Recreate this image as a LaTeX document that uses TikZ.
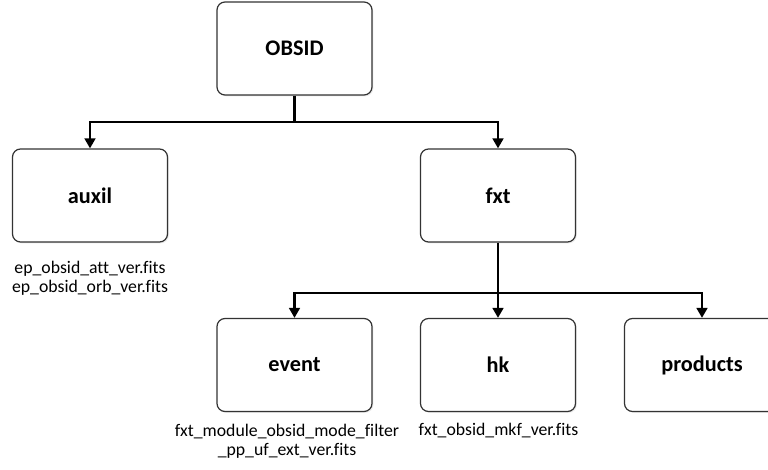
\documentclass[tikz,border=0pt]{standalone}
\usepackage{fontspec}
\setmainfont{Carlito}[Ligatures={NoCommon}]
\usetikzlibrary{arrows.meta,shadows}
\definecolor{boxline}{HTML}{333333}
\tikzset{
  box/.style={draw=boxline, line width=0.9pt, rounded corners=6pt, fill=white,
    minimum width=116.25pt, minimum height=69.75pt, inner sep=0pt,
    font=\fontsize{16.7}{18}\selectfont\bfseries,
    drop shadow={shadow xshift=1pt, shadow yshift=-1pt, opacity=0.25, fill=gray!60}},
  conn/.style={line width=1.9pt, black},
  arr/.style={conn, -{Triangle[width=8pt,length=7.5pt]}},
  fname/.style={font=\fontsize{13.3}{14}\selectfont, align=center, inner sep=0pt}
}
\begin{document}
\begin{tikzpicture}[x=0.75pt,y=-0.75pt]
\useasboundingbox (0,0) rectangle (768,470);
\clip (0,0) rectangle (768,470);
\node[box] (obsid) at (294.5,48.5) {OBSID};
\node[box] (auxil) at (90,195.5) {auxil};
\node[box] (fxt) at (498,195.5) {fxt};
\node[box] (event) at (294.5,365) {event};
\node[box] (hk) at (498,365) {hk};
\node[box] (products) at (702,365) {products};
\coordinate (j1) at (294.5,122);
\coordinate (j2) at (498,293);
\draw[conn] (obsid.south) -- (j1);
\draw[arr] (j1) -| (auxil.north);
\draw[arr] (j1) -| (fxt.north);
\draw[conn] (fxt.south) -- (j2);
\draw[arr] (j2) -| (event.north);
\draw[arr] (j2) -- (hk.north);
\draw[arr] (j2) -| (products.north);
\node[fname] (auxfiles) at (90,278) {ep\_obsid\_att\_ver.fits\\ep\_obsid\_orb\_ver.fits};
\node[fname] (evfiles) at (287,441) {fxt\_module\_obsid\_mode\_filter\\\_pp\_uf\_ext\_ver.fits};
\node[fname] (hkfiles) at (498.5,431) {fxt\_obsid\_mkf\_ver.fits};
\end{tikzpicture}
\end{document}
